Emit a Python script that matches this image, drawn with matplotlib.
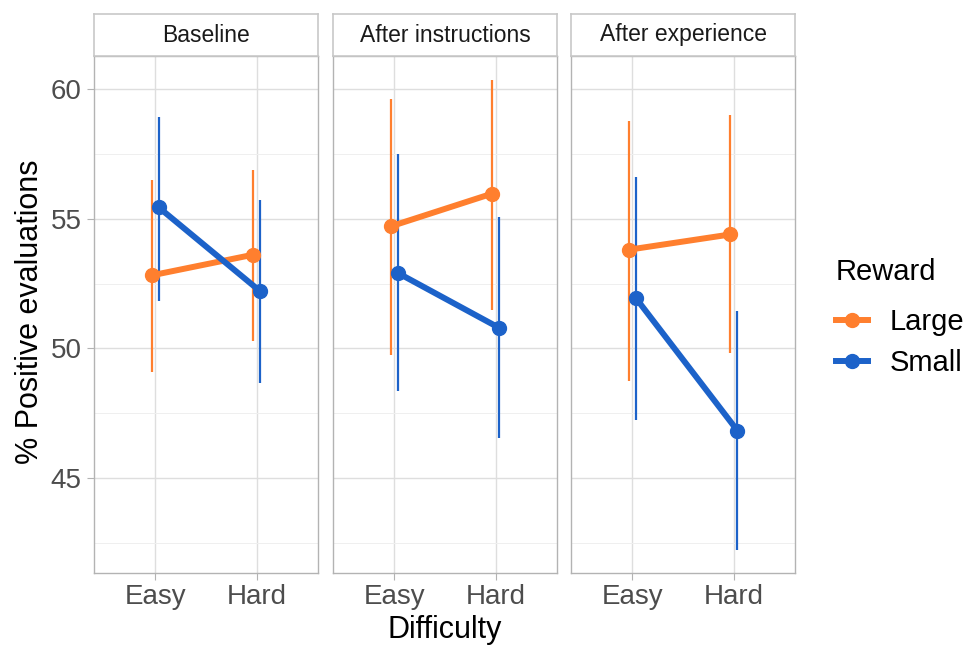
import matplotlib
matplotlib.use("Agg")
import matplotlib.pyplot as plt
from matplotlib.lines import Line2D
from matplotlib.ticker import MultipleLocator

plt.rcParams['font.family'] = ['Liberation Sans', 'DejaVu Sans']

# dados
paineis = ['Baseline', 'After instructions', 'After experience']
dificuldade = ['Easy', 'Hard']
recompensa = ['Large', 'Small']

large_media = [[52.82, 53.62], [54.71, 55.98], [53.81, 54.40]]
large_baixo = [[49.11, 50.30], [49.74, 51.49], [48.74, 49.84]]
large_alto = [[56.49, 56.88], [59.63, 60.38], [58.77, 59.00]]

small_media = [[55.45, 52.20], [52.92, 50.79], [51.96, 46.83]]
small_baixo = [[51.85, 48.65], [48.35, 46.53], [47.24, 42.24]]
small_alto = [[58.93, 55.73], [57.49, 55.09], [56.61, 51.43]]

cores = {'Large': '#FF7F2E', 'Small': '#1C62C9'}
desloc = {'Large': -0.034, 'Small': 0.034}

W, H = 969, 646
fig = plt.figure(figsize=(W / 100, H / 100), dpi=100)

esquerda = [94, 333, 571]
larg = 224
topo, base = 56, 573
strip_topo = 14

todos = sum(large_baixo + large_alto + small_baixo + small_alto, [])
ymin, ymax = min(todos), max(todos)
rng = ymax - ymin
ylim = (ymin - 0.05 * rng, ymax + 0.05 * rng)

for i, nome in enumerate(paineis):
    ax = fig.add_axes([esquerda[i] / W, 1 - base / H, larg / W, (base - topo) / H])
    ax.set_xlim(0.4, 2.6)
    ax.set_ylim(*ylim)
    ax.yaxis.set_major_locator(MultipleLocator(5))
    ax.yaxis.set_minor_locator(MultipleLocator(2.5))
    ax.grid(True, which='major', color='#DEDEDE', lw=1.0)
    ax.grid(True, which='minor', color='#EFEFEF', lw=0.7)
    ax.set_axisbelow(True)
    for s in ax.spines.values():
        s.set_color('#B3B3B3')
        s.set_linewidth(1.0)

    for r, med, lo, hi in [('Large', large_media, large_baixo, large_alto),
                           ('Small', small_media, small_baixo, small_alto)]:
        xs = [1 + desloc[r], 2 + desloc[r]]
        ax.vlines(xs, lo[i], hi[i], color=cores[r], lw=1.6, zorder=3)
        ax.plot(xs, med[i], color=cores[r], lw=4.3, marker='o', ms=10, zorder=4)

    ax.set_xticks([1, 2])
    ax.set_xticklabels(dificuldade)
    ax.tick_params(axis='x', which='both', length=5, color='#B3B3B3', labelsize=20,
                   labelcolor='#4D4D4D', pad=3)
    ax.tick_params(axis='y', which='minor', length=0)
    if i == 0:
        ax.set_yticks([45, 50, 55, 60])
        ax.tick_params(axis='y', which='major', length=5, color='#B3B3B3', labelsize=20,
                       labelcolor='#4D4D4D', pad=4)
    else:
        ax.tick_params(axis='y', which='major', length=0, labelleft=False)

    # faixa do titulo do painel
    st = fig.add_axes([esquerda[i] / W, 1 - topo / H, larg / W, (topo - strip_topo) / H])
    st.set_xticks([])
    st.set_yticks([])
    for s in st.spines.values():
        s.set_color('#C8C8C8')
        s.set_linewidth(1.2)
    st.text(0.5, 0.5, nome, ha='center', va='center', fontsize=16.5, color='#1A1A1A',
            transform=st.transAxes)

fig.text(30 / W, 1 - 312 / H, '% Positive evaluations', rotation=90, ha='center',
         va='center', fontsize=22, color='black')
fig.text(445 / W, 1 - 630 / H, 'Difficulty', ha='center', va='center', fontsize=22,
         color='black')

alcas = [Line2D([], [], color=cores[r], lw=4.3, marker='o', ms=10) for r in recompensa]
leg = fig.legend(alcas, recompensa, title='Reward', loc='upper left',
                 bbox_to_anchor=(824 / W, 1 - 246 / H), frameon=False, fontsize=21,
                 title_fontsize=21, handlelength=1.1, handletextpad=0.75,
                 labelspacing=0.44, borderaxespad=0)
leg._legend_box.align = 'left'
leg._legend_box.sep = 16

fig.savefig('out.png', dpi=100)
